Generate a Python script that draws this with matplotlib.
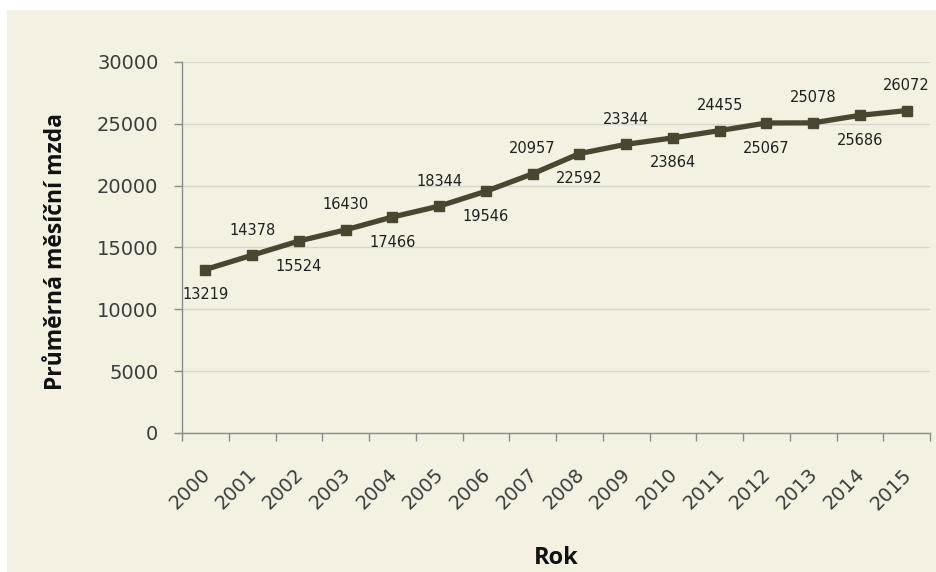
import numpy as np
import matplotlib.pyplot as plt
from matplotlib.patches import Rectangle
from matplotlib.transforms import ScaledTranslation

years = ["2000", "2001", "2002", "2003", "2004", "2005", "2006", "2007",
         "2008", "2009", "2010", "2011", "2012", "2013", "2014", "2015"]
wages = [13219, 14378, 15524, 16430, 17466, 18344, 19546, 20957,
         22592, 23344, 23864, 24455, 25067, 25078, 25686, 26072]
y_ticks = [0, 5000, 10000, 15000, 20000, 25000, 30000]

bg = "#f4f1e3"
line_color = "#4b4630"
text_color = "#3c3c3c"
grid_color = "#d8d6cd"
axis_color = "#8c8c8c"

fig = plt.figure(figsize=(9.36, 5.72), dpi=100, facecolor="white")
# cream panel behind the whole chart
fig.patches.append(Rectangle((7 / 936, 0), 1, 1 - 10 / 572,
                             transform=fig.transFigure, facecolor=bg,
                             edgecolor="none", zorder=-10))

ax = fig.add_axes([182 / 936, 139 / 572, 748 / 936, 371 / 572])
ax.set_facecolor(bg)

x = np.arange(len(years))
ax.plot(x, wages, color=line_color, lw=3.8, marker="s", markersize=7,
        markerfacecolor=line_color, markeredgecolor=line_color, zorder=3)

# value labels alternate below / above the line
for i, v in enumerate(wages):
    dy = -18 if i % 2 == 0 else 18
    ax.annotate(str(v), (i, v), xytext=(0, dy), textcoords="offset points",
                ha="center", va="center", fontsize=10.5, color="#202020",
                family="DejaVu Sans")

ax.set_xlim(-0.5, len(years) - 0.5)
ax.set_ylim(0, 30000)
ax.set_yticks(y_ticks)
ax.set_yticklabels([str(t) for t in y_ticks], fontsize=14, color=text_color,
                   family="DejaVu Sans")
ax.yaxis.grid(True, color=grid_color, lw=1)
ax.set_axisbelow(True)

# category boundaries carry the tick marks, labels sit under each point
ax.set_xticks(np.arange(len(years) + 1) - 0.5)
ax.set_xticklabels([])
ax.set_xticks(x, minor=True)
ax.set_xticklabels(years, minor=True, rotation=45, ha="right",
                   rotation_mode="anchor", fontsize=14, color=text_color,
                   family="DejaVu Sans")
ax.tick_params(axis="x", which="major", length=6, color=axis_color, width=1)
ax.tick_params(axis="x", which="minor", length=0, pad=23)
ax.tick_params(axis="y", length=6, color=axis_color, width=1, pad=11)
shift = ScaledTranslation(-5 / 100, 0, fig.dpi_scale_trans)
for lbl in ax.get_xticklabels(minor=True):
    lbl.set_transform(lbl.get_transform() + shift)

for side in ["top", "right"]:
    ax.spines[side].set_visible(False)
for side in ["left", "bottom"]:
    ax.spines[side].set_color(axis_color)
    ax.spines[side].set_linewidth(1)

ax.set_ylabel("Průměrná měsíční mzda", fontsize=16.5, fontweight="bold",
              family="Open Sans", color="#111111")
ax.yaxis.set_label_coords(-0.152, 0.49)
ax.set_xlabel("Rok", fontsize=17, fontweight="bold", family="Open Sans",
              color="#111111")
ax.xaxis.set_label_coords(0.5, -0.305)

fig.savefig("out.png", dpi=100, facecolor="white")
